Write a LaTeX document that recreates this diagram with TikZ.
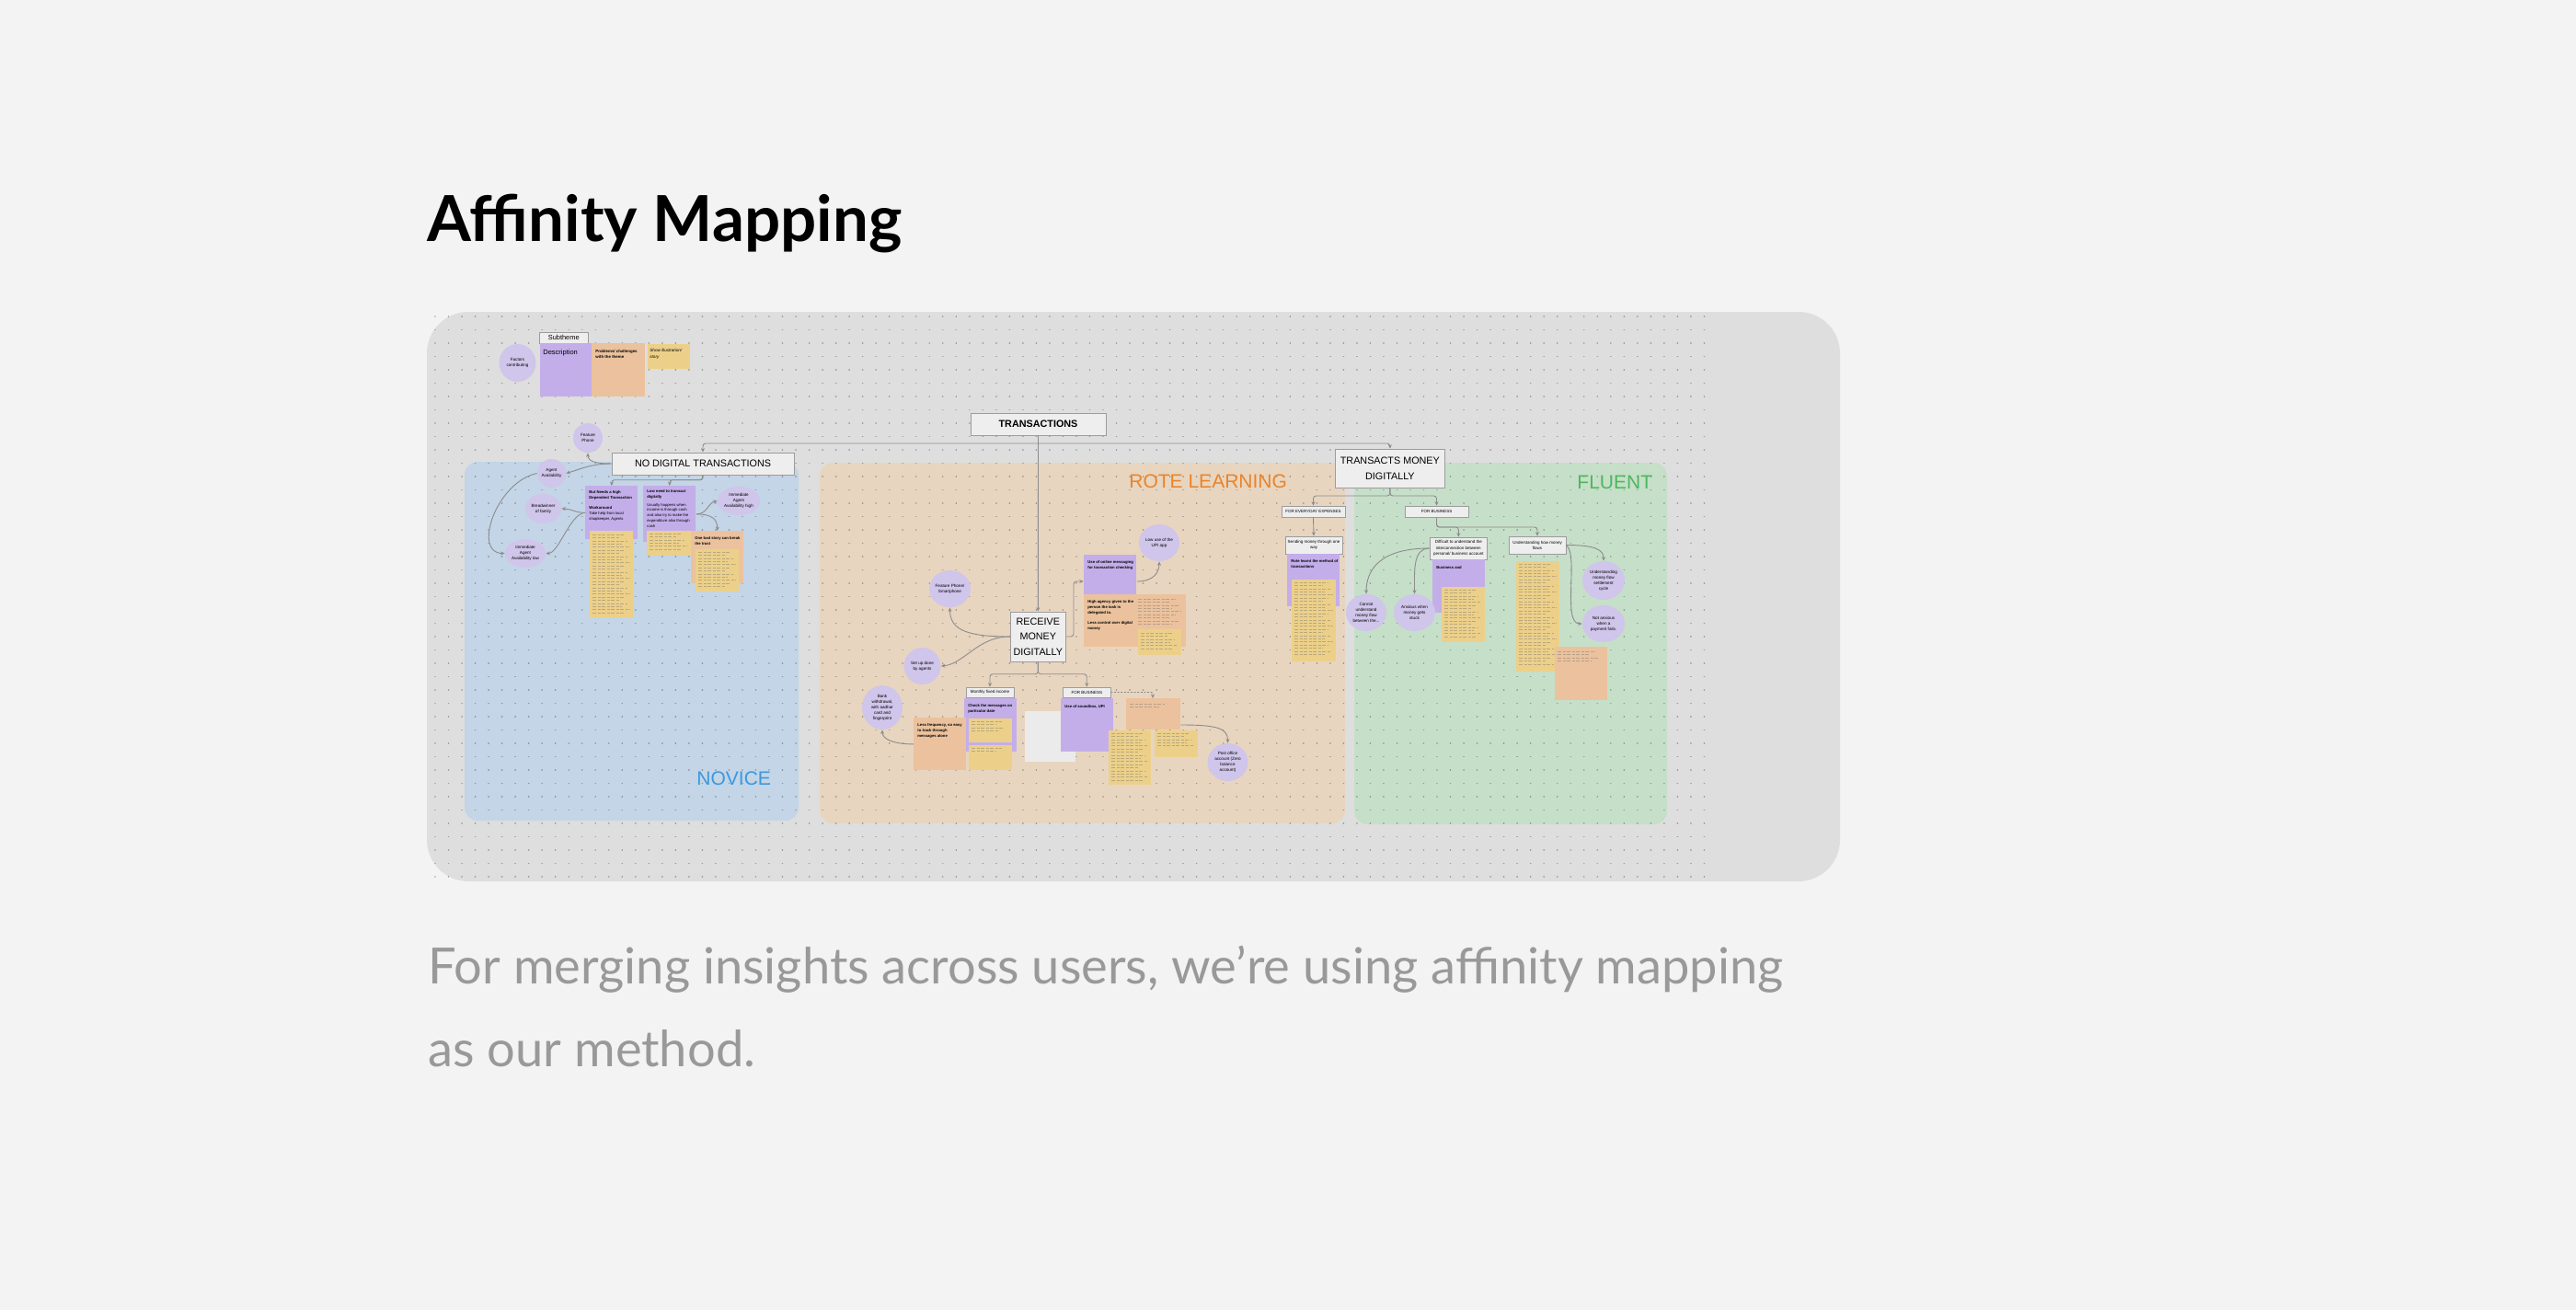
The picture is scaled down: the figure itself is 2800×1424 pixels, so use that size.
\documentclass[tikz,border=0pt]{standalone}
\usepackage{fontspec}
\setmainfont{Liberation Sans}
\newfontfamily\latofont{Lato}
\usetikzlibrary{arrows.meta,shapes.geometric,calc}
\definecolor{bgc}{HTML}{F3F3F3}
\definecolor{panelc}{HTML}{DEDEDE}
\definecolor{novc}{HTML}{C3D5E6}
\definecolor{rotec}{HTML}{E8D5BF}
\definecolor{flc}{HTML}{C6DFC9}
\definecolor{purp}{HTML}{C3AEEA}
\definecolor{orng}{HTML}{EBC29D}
\definecolor{yell}{HTML}{ECD08A}
\definecolor{lav}{HTML}{D0C5EA}
\definecolor{boxfill}{HTML}{EEEEEE}
\definecolor{boxline}{HTML}{9C9C9C}
\definecolor{connc}{HTML}{8C8C8C}
\definecolor{novt}{HTML}{3B98E0}
\definecolor{rotet}{HTML}{E8842C}
\definecolor{flt}{HTML}{4DB75C}
\definecolor{capc}{HTML}{999999}
\definecolor{blankc}{HTML}{EBEBEB}
\newlength\capw
\AtBeginDocument{\settowidth\capw{\latofont\fontsize{21.5pt}{25pt}\selectfont For merging insights across users, we’re using affinity mapping}}
\tikzset{
 conn/.style={draw=connc, line width=0.45pt, -{Stealth[length=2.2pt,width=2pt]}},
 hd/.style={draw=boxline, fill=boxfill, line width=0.5pt, inner sep=0pt, align=center, font=\fontsize{5.4pt}{8.35pt}\selectfont},
 sb/.style={draw=boxline, fill=boxfill, line width=0.4pt, inner sep=0pt, align=center, font=\fontsize{2.25pt}{3.1pt}\selectfont},
 bubble/.style={ellipse, fill=lav, inner sep=0pt, align=center, font=\fontsize{2.3pt}{3pt}\selectfont},
 note/.style={inner sep=0pt, anchor=north west},
 nt/.style={anchor=north west, inner sep=0pt, align=left, font=\fontsize{2.1pt}{2.9pt}\selectfont},
 wh/.style 2 args={minimum width=#1*0.5pt, minimum height=#2*0.5pt},
 txl/.style={draw=black!60, opacity=0.38, line width=0.3pt, dash pattern=on 2.2pt off 0.7pt on 1.4pt off 0.7pt},
 biglbl/.style={anchor=base west, inner sep=0pt, font=\fontsize{10.5pt}{12pt}\selectfont},
}
\newcommand\stick[6]{\node[note, fill=#2, minimum width=(#5-#3)*0.5pt, minimum height=(#6-#4)*0.5pt] (#1) at (#3,#4) {};}
\newcommand\bub[6]{\node[bubble, minimum width=#4pt, minimum height=#5pt] (#1) at (#2,#3) {#6};}
\newcommand\fakelines[5]{%
 \pgfmathsetmacro\fkS{#2+#5}%
 \foreach \fkY [count=\fkI] in {#2,\fkS,...,#4}{%
   \pgfmathsetmacro\fkX{#3-mod(\fkI*7,5)*0.07*(#3-#1)}%
   \draw[txl] (#1,\fkY) -- (\fkX,\fkY);}}
\begin{document}
\begin{tikzpicture}[x=0.5pt,y=-0.5pt]
\useasboundingbox (0,0) rectangle (2800,1424);
\fill[bgc] (0,0) rectangle (2800,1424);
% panel and regions
\fill[panelc, rounded corners=22.5pt] (464,339) rectangle (2000,958);
\fill[novc, rounded corners=7pt] (505,502) rectangle (868,892);
\fill[rotec, rounded corners=7pt] (891,503) rectangle (1462,895);
\fill[flc, rounded corners=7pt] (1472,503) rectangle (1812,896);
% dot grid
\foreach \r in {0,...,42}{
 \pgfmathsetmacro\dy{344+14.5*\r}
 \draw[black, opacity=0.3, line width=0.9pt, dash pattern=on 0.01pt off 7.25pt, line cap=round] (473,\dy) -- (1862,\dy);
}
% region labels
\node[biglbl, text=novt] (novl) at (757,853) {NOVICE};
\node[biglbl, text=rotet] (rotel) at (1227,530) {ROTE LEARNING};
\node[biglbl, text=flt] (fll) at (1714,531) {FLUENT};
% title and caption
\node[anchor=base west, inner sep=0pt] (title) at (464,262) {\resizebox{258pt}{!}{\latofont\bfseries\fontsize{35pt}{40pt}\selectfont Affinity Mapping}};
\pgfmathsetmacro\capsc{736.5/\capw}
\node[anchor=base west, inner sep=0pt, text=capc] (cap1) at (465,1069) {\scalebox{\capsc}{\latofont\fontsize{21.5pt}{25pt}\selectfont For merging insights across users, we’re using affinity mapping}};
\node[anchor=base west, inner sep=0pt, text=capc] (cap2) at (465,1159) {\scalebox{\capsc}{\latofont\fontsize{21.5pt}{25pt}\selectfont as our method.}};
% legend
\bub{fc}{562.5}{394.5}{20}{20.5}{Factors\\contributing}
\node[sb, wh={52.5}{12}, font=\fontsize{3.7pt}{4pt}\selectfont] (subth) at (612.75,367) {Subtheme};
\stick{desc}{purp}{586.5}{373}{643}{431}
\node[nt, font=\fontsize{3.75pt}{4.5pt}\selectfont] (desct) at (590,380) {Description};
\stick{prob}{orng}{643}{373}{700.5}{431}
\node[nt, font=\bfseries\fontsize{2.2pt}{3.2pt}\selectfont] (probt) at (647,380) {Problems/ challenges\\with the theme};
\stick{show}{yell}{703.6}{374}{750}{401}
\node[nt, font=\itshape\fontsize{2.3pt}{3.2pt}\selectfont] (showt) at (706,379) {Show illustration/\\story};
% main headers
\node[hd, wh={147}{24}, font=\bfseries\fontsize{5.4pt}{7pt}\selectfont] (trans) at (1128.5,461) {TRANSACTIONS};
\node[hd, wh={198}{24}] (nodig) at (764,504) {NO DIGITAL TRANSACTIONS};
\node[hd, wh={60.6}{54}] (recv) at (1128.3,692) {RECEIVE\\MONEY\\DIGITALLY};
\node[hd, wh={119.7}{42}] (tmd) at (1510.85,509) {TRANSACTS MONEY\\DIGITALLY};
% NOVICE content
\bub{fp}{639}{476}{16}{16}{Feature\\Phone}
\bub{aa}{599.5}{514.5}{15.5}{15.5}{Agent\\Availability}
\bub{bw}{590.5}{553}{19.5}{16}{Breadwinner\\of family}
\bub{ial}{571}{601.5}{22}{15.5}{Immediate\\Agent\\Availability low}
\bub{iah}{803}{544.5}{23}{15.5}{Immediate\\Agent\\Availability high}
\stick{n1p}{purp}{636}{528}{693}{586}
\node[nt] (n1pt) at (640,533) {\textbf{But Needs a high}\\\textbf{Dependent Transaction}\\[2.9pt]\textbf{Workaround}\\Take help from local\\shopkeeper, Agents};
\stick{n2p}{purp}{699}{528}{756}{589}
\node[nt] (n2pt) at (703,532) {\textbf{Low need to transact}\\\textbf{digitally}\\[1.5pt]Usually happens when\\income is through cash\\and also try to make the\\expenditure also through\\cash};
\stick{n1y}{yell}{641}{577}{688}{671}
\fakelines{644}{581}{685}{667}{3.4}
\stick{n2y}{yell}{703}{577}{750.7}{604}
\fakelines{706}{580}{747}{597}{3.4}
\stick{n3o}{orng}{750.7}{577}{808}{634}
\node[nt, font=\bfseries\fontsize{2.1pt}{2.9pt}\selectfont] (n3ot) at (755,583) {One bad story can break\\the trust};
\stick{n3y}{yell}{756}{597}{803}{643}
\fakelines{759}{600}{800}{638}{3.4}
% ROTE LEARNING content
\bub{fps}{1032.5}{640}{22.5}{20}{Feature Phone/\\Smartphone}
\bub{setup}{1002.5}{724}{20}{20}{Set up done\\by agents}
\bub{bank}{959}{769}{22}{24}{Bank\\withdrawal,\\with aadhar\\card and\\fingerprint}
\bub{lowupi}{1260}{590}{22}{20}{Low use of the\\UPI app}
\bub{post}{1334.5}{828.5}{22}{20.5}{Post office\\account (Zero\\balance\\account)}
\stick{msgp}{purp}{1177.7}{603}{1235}{646}
\node[nt, font=\bfseries\fontsize{2.1pt}{2.9pt}\selectfont] (msgpt) at (1182,609) {Use of online messaging\\for transaction checking};
\stick{agency}{orng}{1177.7}{646}{1288.7}{703}
\node[nt, font=\bfseries\fontsize{2.1pt}{2.9pt}\selectfont] (agencyt) at (1182,652) {High agency given to the\\person the task is\\delegated to.\\[3pt]Less control over digital\\money};
\fakelines{1237}{651}{1284}{681}{3.4}
\stick{agy}{yell}{1237}{684}{1284}{712}
\fakelines{1240}{688}{1280}{705}{3.4}
\node[sb, wh={52}{11}] (mfi) at (1076,752.5) {Monthly fixed income};
\stick{mfip}{purp}{1047.6}{759}{1104.6}{817}
\node[nt, font=\bfseries\fontsize{2.1pt}{2.9pt}\selectfont] (mfipt) at (1052,765) {Check the messages on\\particular date};
\stick{mfiy1}{yell}{1053}{780.7}{1099.7}{807}
\fakelines{1056}{784}{1094}{795}{3.4}
\stick{mfiy2}{yell}{1053}{810}{1099.7}{837}
\fakelines{1056}{813}{1094}{817}{3.4}
\stick{lessf}{orng}{993}{780}{1050}{837}
\node[nt, font=\bfseries\fontsize{2.1pt}{3pt}\selectfont] (lessft) at (997,786) {Less frequency, so easy\\to track through\\messages alone};
\node[note, fill=blankc, minimum width=(1169-1113.5)*0.5pt, minimum height=(828-772.7)*0.5pt] (blank) at (1113.5,772.7) {};
\node[sb, wh={51.5}{11}] (fbz1) at (1181.25,752.5) {FOR BUSINESS};
\stick{sbp}{purp}{1153}{759}{1210}{817}
\node[nt, font=\bfseries\fontsize{2.1pt}{2.9pt}\selectfont] (sbpt) at (1157,766) {Use of soundbox, UPI};
\stick{trust}{orng}{1224}{759}{1282.6}{793}
\fakelines{1228}{765}{1272}{769}{3.4}
\stick{sby1}{yell}{1205}{794}{1251}{853}
\fakelines{1208}{797}{1248}{848}{3.4}
\stick{sby2}{yell}{1255}{794}{1301.7}{822.7}
\fakelines{1258}{797}{1298}{812}{3.4}
% FLUENT content
\node[sb, wh={69}{12}] (fee) at (1427.5,556) {FOR EVERYDAY EXPENSES};
\node[sb, wh={69}{12}] (fbz2) at (1561.5,556) {FOR BUSINESS};
\node[sb, wh={62}{19}] (send) at (1428,592.5) {Sending money through one\\way};
\stick{sendp}{purp}{1399}{602}{1456}{659}
\node[nt, font=\bfseries\fontsize{2.1pt}{2.9pt}\selectfont] (sendpt) at (1403,608) {Rote learnt the method of\\transactions};
\stick{sendy}{yell}{1404}{630}{1452}{719}
\fakelines{1407}{633}{1449}{714}{3.4}
\node[sb, wh={62.7}{24}] (diff) at (1585.35,596) {Difficult to understand the\\interconnection between\\personal/ business account};
\stick{diffp}{purp}{1556.7}{608}{1614}{666}
\node[nt, font=\bfseries\fontsize{2.1pt}{2.9pt}\selectfont] (diffpt) at (1561,615) {Business and};
\stick{diffy}{yell}{1567}{638}{1613.7}{698}
\fakelines{1570}{641}{1610}{693}{3.4}
\node[sb, wh={62}{19}] (und) at (1671,592.5) {Understanding how money\\flows};
\stick{undy}{yell}{1648}{610}{1695}{730}
\fakelines{1651}{613}{1692}{725}{3.4}
\stick{undo}{orng}{1690}{703}{1747}{761}
\fakelines{1693}{708}{1740}{720}{3.4}
\bub{cannot}{1485}{666}{22}{20}{Cannot\\understand\\money flow\\between the...}
\bub{anx}{1537.5}{666}{22.5}{20}{Anxious when\\money gets\\stuck}
\bub{umf}{1743}{631}{23}{21}{Understanding\\money flow\\settlement\\cycle}
\bub{nanx}{1743}{678}{23}{20}{Not anxious\\when a\\payment fails.}
% connectors
\coordinate (hub) at (1128.5,482);
\draw[conn, rounded corners=1.5pt] (hub) -| (nodig.north);
\draw[conn, rounded corners=1.5pt] (hub) -| (tmd.north);
\draw[conn] (trans.south) -- (recv.north);
\coordinate (nb) at (764,521.7);
\draw[conn, rounded corners=1.5pt] (nodig.south) -- (nb) -| (n1p.north);
\draw[conn, rounded corners=1.5pt] (nodig.south) -- (nb) -| (n2p.north);
\draw[conn] (nodig.west) .. controls +(-14,0) and +(0,10) .. (fp.south);
\draw[conn] (nodig.west) .. controls +(-22,0) and +(14,-4) .. (aa.east);
\draw[conn] (aa.west) .. controls +(-45,10) and +(-35,0) .. (ial.west);
\draw[conn] (n1p.west) .. controls +(-10,0) and +(10,0) .. (bw.east);
\draw[conn] (n1p.west) .. controls +(-16,0) and +(14,0) .. (ial.east);
\draw[conn] (n2p.east) .. controls +(12,0) and +(-10,2) .. (iah.west);
\draw[conn] (n2p.east) .. controls +(18,0) and +(0,-12) .. (n3o.north);
\draw[conn] (recv.west) .. controls +(-45,0) and +(0,25) .. (fps.south);
\draw[conn] (recv.west) .. controls +(-35,0) and +(25,-2) .. (setup.east);
\coordinate (rb) at (1128.3,732.7);
\draw[conn, rounded corners=1.5pt] (recv.south) -- (rb) -| (mfi.north);
\draw[conn, rounded corners=1.5pt] (recv.south) -- (rb) -| (fbz1.north);
\coordinate (re) at (1167,632);
\draw[conn, rounded corners=1.5pt] (recv.east) -| (re) -- (msgp.west |- re);
\draw[conn] (msgp.east |- re) .. controls +(18,0) and +(0,12) .. (lowupi.south);
\draw[conn] (lessf.west) .. controls +(-22,0) and +(0,10) .. (bank.south);
\coordinate (fb) at (1253,752.5);
\draw[conn, dash pattern=on 1pt off 0.8pt, rounded corners=1pt] (fbz1.east) -- (fb) -- (fb |- trust.north);
\draw[conn] (trust.east |- 0,788) .. controls +(40,0) and +(0,-16) .. (post.north);
\coordinate (tb) at (1510.85,539);
\draw[conn, rounded corners=1.5pt] (tmd.south) -- (tb) -| (fee.north);
\draw[conn, rounded corners=1.5pt] (tmd.south) -- (tb) -| (fbz2.north);
\draw[conn] (fee.south) -- (send.north);
\coordinate (fb2) at (1561.5,573);
\draw[conn, rounded corners=1.5pt] (fbz2.south) -- (fb2) -| (diff.north);
\draw[conn, rounded corners=1.5pt] (fbz2.south) -- (fb2) -| (und.north);
\draw[conn] (diff.west) .. controls +(-55,0) and +(0,-25) .. (cannot.north);
\draw[conn] (diff.west) .. controls +(-18,0) and +(0,-25) .. (anx.north);
\draw[conn] (und.east) .. controls +(32,0) and +(0,-12) .. (umf.north);
\draw[conn] (und.east) .. controls +(14,10) and +(-22,0) .. (nanx.west);
\end{tikzpicture}
\end{document}
